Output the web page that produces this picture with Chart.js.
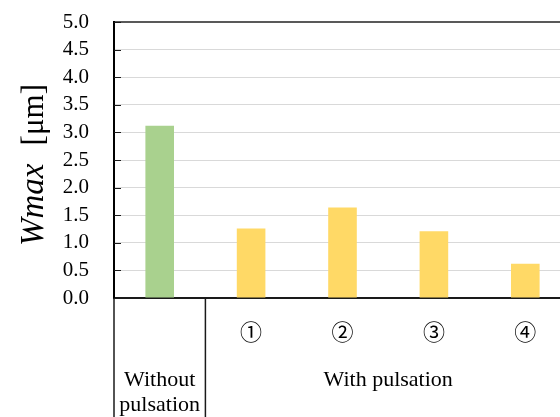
<!DOCTYPE html>
<html>
<head>
<meta charset="utf-8">
<script src="https://cdn.jsdelivr.net/npm/chart.js@4"></script>
<style>
  html, body { margin: 0; padding: 0; overflow: hidden; background: #fff; }
  #wrap { width: 572px; height: 417px; }
</style>
</head>
<body>
<div id="wrap"><canvas id="myChart"></canvas></div>
<script>
// categories along the x axis (first one belongs to the "without" group and has no tick label)
const categories = ['', '①', '②', '③', '④']
// Wmax values in µm
const wmaxValues = [3.12, 1.26, 1.64, 1.21, 0.62]
// group labels below the ticks and how many categories each one spans
const groupLabels = [['Without', 'pulsation'], ['With pulsation']]
const groupSpans = [1, 4]

const serif = "'Liberation Serif', 'Times New Roman', serif"

// extra drawing: inward y ticks, group separators, group labels and the mixed-style y title
const decor = {
    id: 'decor',
    afterDraw(chart) {
        const {ctx, chartArea, scales: {x, y}} = chart
        const bottom = chart.height
        ctx.save()

        // short tick marks pointing into the plot
        ctx.strokeStyle = '#1a1a1a'
        ctx.lineWidth = 1
        y.ticks.forEach(t => {
            const py = Math.round(y.getPixelForValue(t.value)) + 0.5
            ctx.beginPath()
            ctx.moveTo(chartArea.left, py)
            ctx.lineTo(chartArea.left + 7, py)
            ctx.stroke()
        })

        // vertical lines through the label area
        ctx.strokeStyle = '#1a1a1a'
        ctx.lineWidth = 1.5
        const half = (x.getPixelForValue(1) - x.getPixelForValue(0)) / 2
        let start = 0
        const edges = [chartArea.left]
        groupSpans.forEach(n => {
            start += n
            edges.push(x.getPixelForValue(start - 1) + half)
        })
        edges.forEach(px => {
            ctx.beginPath()
            ctx.moveTo(px, chartArea.bottom)
            ctx.lineTo(px, bottom)
            ctx.stroke()
        })

        // group labels
        ctx.fillStyle = '#000'
        ctx.font = '22px ' + serif
        ctx.textAlign = 'center'
        ctx.textBaseline = 'middle'
        groupLabels.forEach((lines, i) => {
            const cx = (edges[i] + edges[i + 1]) / 2
            lines.forEach((line, j) => {
                ctx.fillText(line, cx, 380 + j * 25)
            })
        })

        // y title: italic "Wmax" followed by "[µm]", reading bottom to top
        ctx.translate(43, 0)
        ctx.rotate(-Math.PI / 2)
        ctx.textBaseline = 'alphabetic'
        ctx.textAlign = 'left'
        ctx.font = 'italic 33px ' + serif
        ctx.fillText('Wmax', -246, 0)
        ctx.textAlign = 'right'
        ctx.font = '31px ' + serif
        ctx.fillText('[μm]', -84, 0)

        ctx.restore()
    }
}

new Chart(document.getElementById('myChart'), {
    type: 'bar',
    data: {
        labels: categories,
        datasets: [{
            data: wmaxValues,
            backgroundColor: ['#A9D18E', '#FFD966', '#FFD966', '#FFD966', '#FFD966'],
            barPercentage: 0.313,
            categoryPercentage: 1
        }]
    },
    options: {
        responsive: true,
        maintainAspectRatio: false,
        animation: false,
        layout: {padding: {top: 22, right: 1, left: 0, bottom: 0}},
        plugins: {
            legend: {display: false},
            tooltip: {enabled: false}
        },
        scales: {
            x: {
                grid: {display: true, drawOnChartArea: false, drawTicks: false},
                border: {display: true, color: '#1a1a1a', width: 2},
                ticks: {
                    color: '#000',
                    padding: 20,
                    maxRotation: 0,
                    font: {family: "'Noto Sans CJK JP', 'DejaVu Sans', sans-serif", size: 22}
                },
                afterFit: scale => { scale.height = 119 }
            },
            y: {
                min: 0,
                max: 5,
                grid: {
                    // invisible outer ticks keep the labels away from the axis without extra top padding
                    drawTicks: true,
                    tickLength: 25,
                    tickColor: 'transparent',
                    color: ctx => ctx.tick.value === 5 ? '#595959' : (ctx.tick.value === 0 ? 'transparent' : '#d9d9d9'),
                    lineWidth: ctx => ctx.tick.value === 5 ? 2 : 1
                },
                border: {display: true, color: '#000', width: 2},
                ticks: {
                    stepSize: 0.5,
                    autoSkip: false,
                    color: '#000',
                    padding: 0,
                    font: {family: serif, size: 21},
                    callback: v => v.toFixed(1)
                },
                afterFit: scale => { scale.width = 114 }
            }
        }
    },
    plugins: [decor]
})
</script>
</body>
</html>
